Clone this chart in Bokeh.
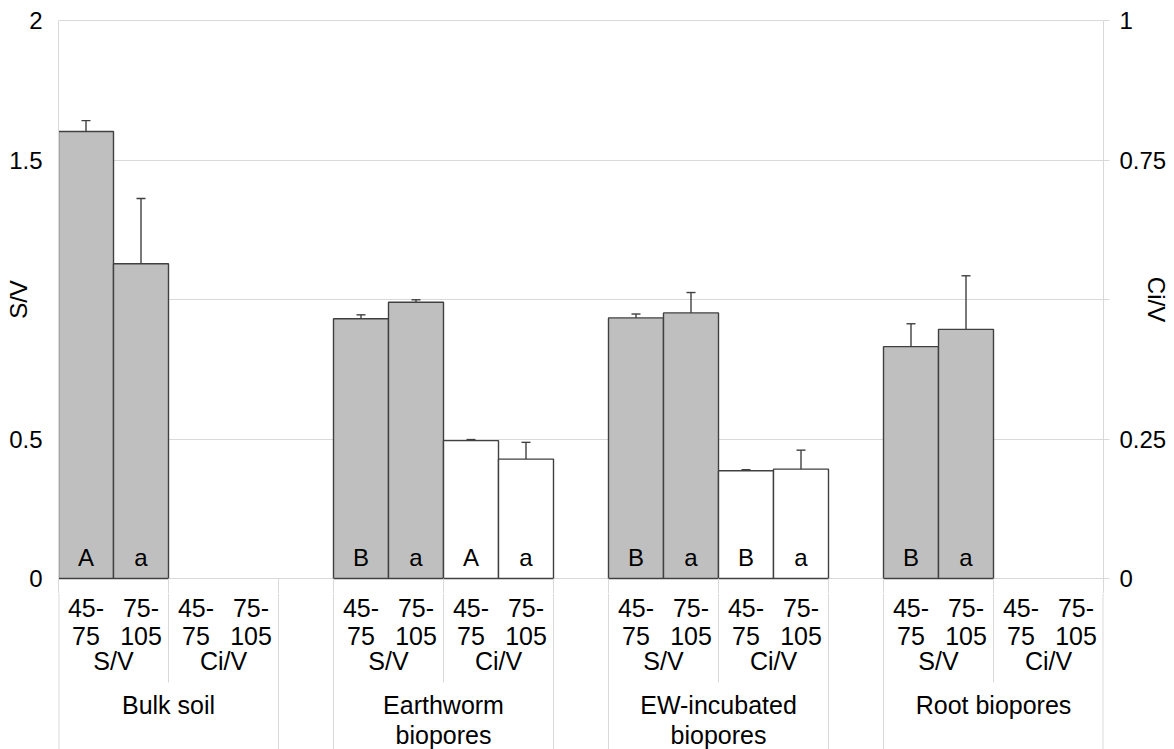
from bokeh.plotting import figure
from bokeh.layouts import column
from bokeh.models import (FactorRange, Range1d, LinearAxis, FixedTicker, Grid,
                          ColumnDataSource, Whisker, TeeHead)
from bokeh.core.properties import value
from bokeh.embed import file_html
from bokeh.resources import INLINE

# ---------------- data ----------------
groups = ["Bulk soil", "Earthworm biopores", "EW-incubated biopores", "Root biopores"]
group_labels = ["Bulk soil", "Earthworm\nbiopores", "EW-incubated\nbiopores", "Root biopores"]
ratios = ["S/V", "Ci/V"]
depths = ["45-75", "75-105"]
depth_labels = ["45-\n75", "75-\n105"]

# S/V (left axis), per group, per depth
sv_mean = [[1.602, 1.128], [0.931, 0.990], [0.934, 0.952], [0.831, 0.893]]
sv_err = [[0.039, 0.234], [0.014, 0.009], [0.014, 0.073], [0.082, 0.192]]
sv_letters = [["A", "a"], ["B", "a"], ["B", "a"], ["B", "a"]]

# Ci/V (right axis), only for earthworm and EW-incubated biopores
ci_groups = ["Earthworm biopores", "EW-incubated biopores"]
ci_mean = [[0.247, 0.214], [0.193, 0.196]]
ci_err = [[0.002, 0.030], [0.002, 0.034]]
ci_letters = [["A", "a"], ["B", "a"]]

left_ticks = [0, 0.5, 1, 1.5, 2]
right_ticks = [0, 0.25, 0.5, 0.75, 1]

# ---------------- layout constants ----------------
FONT = "Liberation Sans"
FS = "24px"
FS_CAT = "25px"
FRAME_W, PLOT_H, TABLE_H = 1045, 558, 171
TOP = 20          # canvas y of the value 2
E = 15            # extra pixels of the main frame above 2 and below 0
BL, BR = 58, 71
GRID = "#D9D9D9"
EDGE = "#404040"
SV_MAX, CI_MAX = 2.0, 1.0
k_sv = SV_MAX / PLOT_H
k_ci = CI_MAX / PLOT_H

factors = [(g, r, d) for g in groups for r in ratios for d in depths]
xr = FactorRange(*factors, group_padding=1.0, subgroup_padding=0.0,
                 factor_padding=0.0, range_padding=0.0)

# ---------------- main plot ----------------
p = figure(x_range=xr, y_range=Range1d(-E * k_sv, SV_MAX + E * k_sv),
           frame_width=FRAME_W, frame_height=PLOT_H + 2 * E,
           min_border_left=BL, min_border_right=BR, min_border_top=TOP - E,
           min_border_bottom=0, x_axis_location=None, y_axis_location=None,
           toolbar_location=None, output_backend="svg",
           outline_line_color=None, background_fill_color="white")
p.extra_y_ranges = {"ci": Range1d(-E * k_ci, CI_MAX + E * k_ci)}
p.xgrid.visible = False
p.ygrid.visible = False

left = LinearAxis(ticker=FixedTicker(ticks=left_ticks), bounds=(-E * k_sv, SV_MAX),
                  major_label_overrides={0: "0", 0.5: "0.5", 1: "", 1.5: "1.5", 2: "2"},
                  axis_line_color=GRID, major_tick_line_color=None,
                  minor_tick_line_color=None, major_label_standoff=10,
                  major_label_text_font=FONT, major_label_text_font_size=FS,
                  major_label_text_color="black",
                  axis_label="S/V", axis_label_standoff=-26,
                  axis_label_text_font=FONT, axis_label_text_font_size=FS,
                  axis_label_text_font_style="normal", axis_label_text_color="black")
p.add_layout(left, "left")

right = LinearAxis(y_range_name="ci", ticker=FixedTicker(ticks=right_ticks),
                   bounds=(-E * k_ci, CI_MAX),
                   major_label_overrides={0: "0", 0.25: "0.25", 0.5: "", 0.75: "0.75", 1: "1"},
                   axis_line_color=GRID, major_tick_line_color=GRID,
                   major_tick_out=6, major_tick_in=0,
                   minor_tick_line_color=None, major_label_standoff=10,
                   major_label_text_font=FONT, major_label_text_font_size=FS,
                   major_label_text_color="black",
                   axis_label="Ci/V", axis_label_standoff=-26,
                   axis_label_text_font=FONT, axis_label_text_font_size=FS,
                   axis_label_text_font_style="normal", axis_label_text_color="black")
p.add_layout(right, "right")

p.add_layout(Grid(dimension=1, ticker=FixedTicker(ticks=left_ticks),
                  grid_line_color=GRID, grid_line_width=1))

sv_src = ColumnDataSource(dict(
    x=[(g, "S/V", d) for g in groups for d in depths],
    top=[v for row in sv_mean for v in row],
    upper=[v + e for row_v, row_e in zip(sv_mean, sv_err) for v, e in zip(row_v, row_e)],
    letter=[l for row in sv_letters for l in row],
))
ci_src = ColumnDataSource(dict(
    x=[(g, "Ci/V", d) for g in ci_groups for d in depths],
    top=[v for row in ci_mean for v in row],
    upper=[v + e for row_v, row_e in zip(ci_mean, ci_err) for v, e in zip(row_v, row_e)],
    letter=[l for row in ci_letters for l in row],
))

p.vbar(x="x", top="top", width=1.0, source=sv_src, fill_color="#BFBFBF",
       line_color=EDGE, line_width=1.4)
p.vbar(x="x", top="top", width=1.0, source=ci_src, fill_color="white",
       line_color=EDGE, line_width=1.4, y_range_name="ci")

p.add_layout(Whisker(source=sv_src, base="x", upper="upper", lower="top",
                     line_color=EDGE, line_width=1.4,
                     upper_head=TeeHead(size=9, line_color=EDGE, line_width=1.4),
                     lower_head=None))
p.add_layout(Whisker(source=ci_src, base="x", upper="upper", lower="top",
                     line_color=EDGE, line_width=1.4, y_range_name="ci",
                     upper_head=TeeHead(size=9, line_color=EDGE, line_width=1.4),
                     lower_head=None))

letter_y = 21 * k_sv
p.text(x="x", y=letter_y, text="letter", source=sv_src, text_align="center",
       text_baseline="middle", text_font=value(FONT), text_font_size=FS,
       text_color="black")
p.text(x="x", y=letter_y, text="letter", source=ci_src, text_align="center",
       text_baseline="middle", text_font=value(FONT), text_font_size=FS,
       text_color="black")

# ---------------- category table below the plot ----------------
# y in this figure = pixels below the zero line (negative)
t = figure(x_range=xr, y_range=Range1d(-TABLE_H, -E),
           frame_width=FRAME_W, frame_height=TABLE_H - E,
           min_border_left=BL, min_border_right=BR, min_border_top=0,
           min_border_bottom=0, x_axis_location=None, y_axis_location=None,
           toolbar_location=None, output_backend="svg",
           outline_line_color=None, background_fill_color="white")
t.xgrid.visible = False
t.ygrid.visible = False

depth_src = ColumnDataSource(dict(
    x=[(g, r, d) for g in groups for r in ratios for d in depths],
    text=[depth_labels[i] for g in groups for r in ratios for i in range(len(depths))],
))
t.text(x="x", y=-E, text="text", source=depth_src, text_align="center",
       text_baseline="top", text_font=value(FONT), text_font_size=FS_CAT,
       text_line_height=1.0, text_color="black")

ratio_src = ColumnDataSource(dict(
    x=[(g, r) for g in groups for r in ratios],
    text=[r for g in groups for r in ratios],
))
t.text(x="x", y=-82, text="text", source=ratio_src, text_align="center",
       text_baseline="middle", text_font=value(FONT), text_font_size=FS_CAT,
       text_color="black")

group_src = ColumnDataSource(dict(x=groups, text=group_labels))
t.text(x="x", y=-112, text="text", source=group_src, text_align="center",
       text_baseline="top", text_font=value(FONT), text_font_size=FS_CAT,
       text_line_height=1.1, text_color="black")

# separators: frame edges, group boundaries (full height), S/V | Ci/V (partial)
edge_x = [(groups[0], ratios[0], depths[0], -0.5), (groups[-1], ratios[-1], depths[-1], 0.5)]
g_x = ([(g, ratios[-1], depths[-1], 0.5) for g in groups[:-1]] +
       [(g, ratios[0], depths[0], -0.5) for g in groups[1:]])
r_x = [(g, ratios[1], depths[0], -0.5) for g in groups]

t.segment(x0=edge_x, x1=edge_x, y0=[-E] * 2, y1=[-TABLE_H] * 2,
          line_color=GRID, line_width=2)
t.segment(x0=g_x, x1=g_x, y0=[-E] * len(g_x), y1=[-TABLE_H] * len(g_x),
          line_color=GRID, line_width=1)
t.segment(x0=r_x, x1=r_x, y0=[-E] * len(r_x), y1=[-104] * len(r_x),
          line_color=GRID, line_width=1)
# the same separators in the strip of the main frame just below zero
sep_x = g_x + r_x
p.segment(x0=sep_x, x1=sep_x, y0=[0] * len(sep_x), y1=[-E * k_sv] * len(sep_x),
          line_color=GRID, line_width=1)

layout = column(p, t, spacing=0)
open("out.html", "w").write(file_html(layout, INLINE))
